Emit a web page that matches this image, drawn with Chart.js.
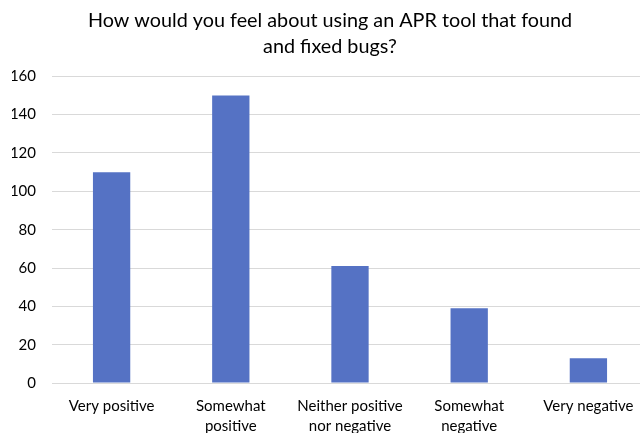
<!DOCTYPE html>
<html>
<head>
<meta charset="utf-8">
<script src="https://cdn.jsdelivr.net/npm/chart.js@4/dist/chart.umd.min.js"></script>
<style>
  html, body { margin: 0; padding: 0; background: #ffffff; overflow: hidden; }
  #wrap { width: 660px; height: 449px; }
</style>
</head>
<body>
<div id="wrap"><canvas id="chart" width="660" height="449"></canvas></div>
<script>
// Survey answers and their counts
const categories = [
  'Very positive',
  ['Somewhat', 'positive'],
  ['Neither positive', 'nor negative'],
  ['Somewhat', 'negative'],
  'Very negative'
];
const responses = [110, 150, 61, 39, 13];
const titleLines = ['How would you feel about using an APR tool that found', 'and fixed bugs?'];
const yMin = 0;
const yMax = 160;
const yStep = 20;

const FONT = 'Lato, "Open Sans", sans-serif';
const barBlue = 'rgb(85,114,196)';
const gridGrey = '#d9d9d9';

new Chart(document.getElementById('chart'), {
  type: 'bar',
  data: {
    labels: categories,
    datasets: [{
      data: responses,
      backgroundColor: barBlue,
      borderWidth: 0,
      barPercentage: 0.313,
      categoryPercentage: 1.0
    }]
  },
  options: {
    responsive: false,
    animation: false,
    layout: { padding: { left: 12, right: 12, top: 0, bottom: 0 } },
    plugins: {
      legend: { display: false },
      tooltip: { enabled: false },
      title: {
        display: true,
        text: titleLines,
        color: '#000000',
        font: { family: FONT, size: 19.8, weight: 'normal', lineHeight: 1.345 },
        padding: { top: 7, bottom: 16 }
      }
    },
    scales: {
      x: {
        grid: { display: false, drawTicks: false },
        border: { display: true, color: gridGrey, width: 1 },
        ticks: {
          color: '#000000',
          font: { family: FONT, size: 15, lineHeight: 1.33 },
          padding: 13,
          maxRotation: 0,
          autoSkip: false
        }
      },
      y: {
        min: yMin,
        max: yMax,
        afterFit: (scale) => { scale.width = 40; },
        grid: { color: gridGrey, lineWidth: 1, drawTicks: false },
        border: { display: false },
        ticks: {
          stepSize: yStep,
          color: '#000000',
          font: { family: FONT, size: 15 },
          padding: 16
        }
      }
    }
  }
});
</script>
</body>
</html>
